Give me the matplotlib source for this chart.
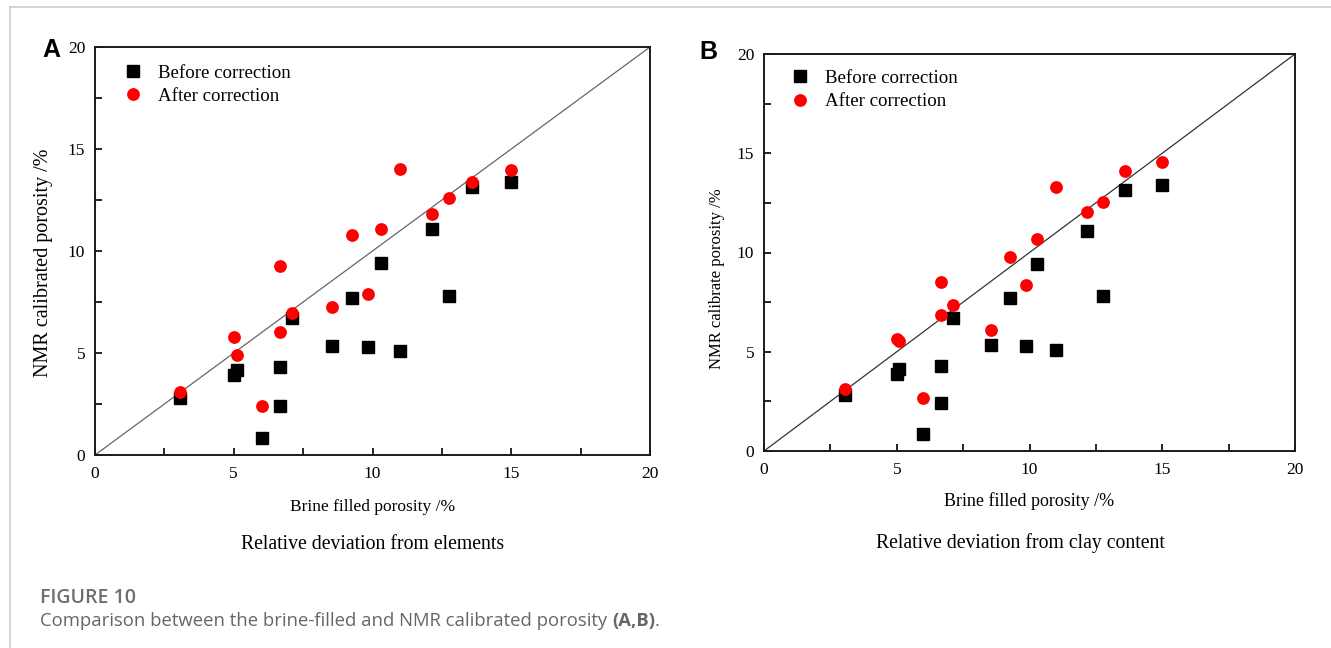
import matplotlib.pyplot as plt
from matplotlib.lines import Line2D

# ------------------------------------------------------------
# Data
# ------------------------------------------------------------

brine = [3.05, 5.0, 5.1, 6.0, 6.65, 6.65, 7.1, 8.55, 9.25, 9.85,
         10.3, 11.0, 12.15, 12.75, 13.6, 15.0]

nmr_before = [2.8, 3.9, 4.15, 0.85, 4.3, 2.4, 6.7, 5.35, 7.7, 5.3,
              9.4, 5.1, 11.1, 7.8, 13.15, 13.4]

after_elements = [3.1, 5.8, 4.9, 2.4, 9.26, 6.05, 6.98, 7.25, 10.78, 7.9,
                  11.1, 14.0, 11.8, 12.58, 13.4, 13.95]

after_clay = [3.12, 5.64, 5.56, 2.65, 8.52, 6.85, 7.38, 6.1, 9.78, 8.38,
              10.7, 13.3, 12.05, 12.55, 14.1, 14.58]

panels = ["A", "B"]
ylabels = ["NMR calibrated porosity /%", "NMR calibrate porosity /%"]
subtitles = ["Relative deviation from elements",
             "Relative deviation from clay content"]
after_series = [after_elements, after_clay]

ticks = [0, 5, 10, 15, 20]
minor_ticks = [2.5, 7.5, 12.5, 17.5]

# ------------------------------------------------------------
# Layout (per panel)
# ------------------------------------------------------------

W, H = 1331, 648
serif = "Liberation Serif"

positions = [
    [95 / W, 1 - 455 / H, 555 / W, 408 / H],
    [764 / W, 1 - 451 / H, 531 / W, 397 / H],
]
ylabel_size = [14.5, 12.0]
ylabel_xy = [(-0.076, 0.47), (-0.073, 0.435)]
xlabel_size = [12.5, 13.0]
xlabel_y = [-0.108, -0.103]
subtitle_xy = [(0.5, -0.22), (0.482, -0.232)]
legend_anchor = [(0.034, 0.976), (0.032, 0.98)]
letter_xy = [(-0.079, 0.993), (-0.104, 1.005)]
diag_color = ["#666666", "#333333"]

# ------------------------------------------------------------
# Figure
# ------------------------------------------------------------

fig = plt.figure(figsize=(W / 100, H / 100), dpi=100)

# light frame of the page
fig.add_artist(Line2D([10 / W, 10 / W], [0, 1 - 7 / H],
                      color="#cccccc", lw=1.2))
fig.add_artist(Line2D([10 / W, 1], [1 - 7 / H, 1 - 7 / H],
                      color="#cccccc", lw=1.2))

for i in range(2):
    ax = fig.add_axes(positions[i])

    ax.plot([0, 20], [0, 20], color=diag_color[i], lw=0.9, zorder=1)

    ax.plot(brine, nmr_before, linestyle="none", marker="s",
            markersize=8, color="black", label="Before correction", zorder=3)
    ax.plot(brine, after_series[i], linestyle="none", marker="o",
            markersize=9.2, color="#ff0000", markeredgewidth=0,
            label="After correction", zorder=4)

    ax.set_xlim(0, 20)
    ax.set_ylim(0, 20)
    ax.set_xticks(ticks)
    ax.set_yticks(ticks)
    ax.set_xticks(minor_ticks, minor=True)
    ax.set_yticks(minor_ticks, minor=True)
    ax.tick_params(which="both", direction="in", length=5, width=1.2,
                   top=False, right=False, labelsize=12.5)
    ax.tick_params(axis="x", pad=8)
    ax.tick_params(axis="y", pad=7)
    for lab in ax.get_xticklabels() + ax.get_yticklabels():
        lab.set_fontfamily(serif)

    for sp in ax.spines.values():
        sp.set_linewidth(1.4)
        sp.set_color("#1a1a1a")

    ax.set_xlabel("Brine filled porosity /%", fontfamily=serif,
                  fontsize=xlabel_size[i])
    ax.xaxis.set_label_coords(0.5, xlabel_y[i])
    ax.set_ylabel(ylabels[i], fontfamily=serif, fontsize=ylabel_size[i])
    ax.yaxis.set_label_coords(*ylabel_xy[i])

    ax.legend(loc="upper left", frameon=False,
              prop={"family": serif, "size": 13.6},
              handletextpad=0.75, labelspacing=0.33,
              borderaxespad=0, handlelength=1.2,
              bbox_to_anchor=legend_anchor[i])

    ax.text(*subtitle_xy[i], subtitles[i], transform=ax.transAxes,
            ha="center", va="center", fontfamily=serif, fontsize=14.2)

    ax.text(*letter_xy[i], panels[i], transform=ax.transAxes,
            ha="center", va="center", fontfamily="Liberation Sans",
            fontweight="bold", fontsize=18)

# ------------------------------------------------------------
# Caption
# ------------------------------------------------------------

cap_color = "#666666"
fig.text(40 / W, 1 - 598 / H, "FIGURE 10", fontfamily="Open Sans",
         fontsize=14, fontweight="semibold", color="#6f6f6f",
         ha="left", va="center")

renderer = fig.canvas.get_renderer()
x0 = 40 / W
parts = [
    ("Comparison between the brine-filled and NMR calibrated porosity ",
     "normal"),
    ("(A,B)", "bold"),
    (".", "normal"),
]
for txt, wt in parts:
    t = fig.text(x0, 1 - 621 / H, txt, fontfamily="Open Sans",
                 fontsize=13.3, fontweight=wt, color=cap_color,
                 ha="left", va="center")
    bb = t.get_window_extent(renderer=renderer)
    x0 = bb.x1 / W

fig.savefig("out.png", dpi=100)
